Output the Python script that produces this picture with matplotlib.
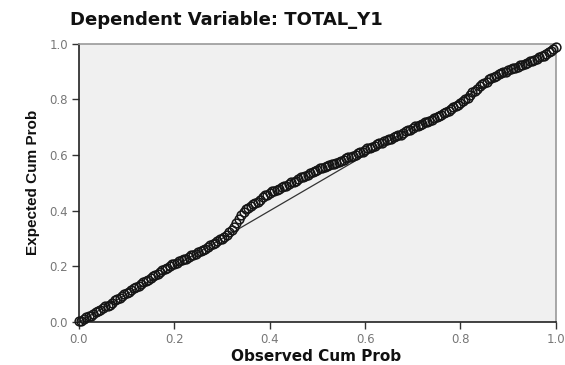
import matplotlib
matplotlib.use("Agg")
import matplotlib.pyplot as plt

# Observed / expected cumulative probabilities
observed = [0.00, 0.01, 0.02, 0.03, 0.04, 0.05, 0.06, 0.07, 0.08, 0.09,
            0.10, 0.11, 0.12, 0.13, 0.14, 0.15, 0.16, 0.17, 0.18, 0.19,
            0.20, 0.21, 0.22, 0.23, 0.24, 0.25, 0.26, 0.27, 0.28, 0.29,
            0.30, 0.31, 0.32, 0.33, 0.34, 0.35, 0.36, 0.37, 0.38, 0.39,
            0.40, 0.41, 0.42, 0.43, 0.44, 0.45, 0.46, 0.47, 0.48, 0.49,
            0.50, 0.51, 0.52, 0.53, 0.54, 0.55, 0.56, 0.57, 0.58, 0.59,
            0.60, 0.61, 0.62, 0.63, 0.64, 0.65, 0.66, 0.67, 0.68, 0.69,
            0.70, 0.71, 0.72, 0.73, 0.74, 0.75, 0.76, 0.77, 0.78, 0.79,
            0.80, 0.81, 0.82, 0.83, 0.84, 0.85, 0.86, 0.87, 0.88, 0.89,
            0.90, 0.91, 0.92, 0.93, 0.94, 0.95, 0.96, 0.97, 0.98, 0.99, 1.00]
expected = [0.005, 0.012, 0.020, 0.028, 0.040, 0.050, 0.058, 0.070, 0.082, 0.092,
            0.103, 0.115, 0.125, 0.135, 0.148, 0.158, 0.168, 0.178, 0.190, 0.200,
            0.210, 0.218, 0.226, 0.234, 0.242, 0.250, 0.258, 0.268, 0.282, 0.290,
            0.300, 0.312, 0.330, 0.355, 0.385, 0.405, 0.418, 0.428, 0.440, 0.455,
            0.465, 0.472, 0.480, 0.488, 0.495, 0.505, 0.515, 0.522, 0.530, 0.540,
            0.548, 0.555, 0.562, 0.567, 0.572, 0.580, 0.588, 0.595, 0.602, 0.610,
            0.618, 0.626, 0.634, 0.642, 0.650, 0.657, 0.665, 0.672, 0.680, 0.690,
            0.698, 0.705, 0.712, 0.720, 0.728, 0.736, 0.745, 0.755, 0.766, 0.776,
            0.788, 0.800, 0.815, 0.832, 0.848, 0.860, 0.872, 0.882, 0.890, 0.898,
            0.905, 0.912, 0.918, 0.925, 0.932, 0.940, 0.947, 0.955, 0.965, 0.975, 0.990]
observed_b = [0.005, 0.015, 0.025, 0.035, 0.045, 0.055, 0.065, 0.075, 0.085, 0.095,
              0.105, 0.115, 0.125, 0.135, 0.145, 0.155, 0.165, 0.175, 0.185, 0.195,
              0.205, 0.215, 0.225, 0.235, 0.245, 0.255, 0.265, 0.275, 0.285, 0.295,
              0.305, 0.315, 0.325, 0.335, 0.345, 0.355, 0.365, 0.375, 0.385, 0.395,
              0.405, 0.415, 0.425, 0.435, 0.445, 0.455, 0.465, 0.475, 0.485, 0.495,
              0.505, 0.515, 0.525, 0.535, 0.545, 0.555, 0.565, 0.575, 0.585, 0.595,
              0.605, 0.615, 0.625, 0.635, 0.645, 0.655, 0.665, 0.675, 0.685, 0.695,
              0.705, 0.715, 0.725, 0.735, 0.745, 0.755, 0.765, 0.775, 0.785, 0.795,
              0.805, 0.815, 0.825, 0.835, 0.845, 0.855, 0.865, 0.875, 0.885, 0.895,
              0.905, 0.915, 0.925, 0.935, 0.945, 0.955, 0.965, 0.975, 0.985, 0.995]
expected_b = [0.004, 0.018, 0.022, 0.036, 0.043, 0.056, 0.062, 0.078, 0.085, 0.099,
              0.107, 0.121, 0.128, 0.143, 0.151, 0.165, 0.171, 0.186, 0.193, 0.207,
              0.212, 0.224, 0.228, 0.240, 0.244, 0.256, 0.261, 0.277, 0.284, 0.297,
              0.304, 0.322, 0.340, 0.372, 0.396, 0.410, 0.425, 0.432, 0.450, 0.458,
              0.470, 0.474, 0.486, 0.490, 0.502, 0.508, 0.520, 0.524, 0.537, 0.542,
              0.553, 0.557, 0.566, 0.568, 0.577, 0.583, 0.593, 0.597, 0.608, 0.612,
              0.624, 0.628, 0.640, 0.644, 0.655, 0.659, 0.670, 0.674, 0.687, 0.692,
              0.703, 0.707, 0.718, 0.722, 0.734, 0.739, 0.752, 0.758, 0.773, 0.780,
              0.796, 0.805, 0.826, 0.838, 0.856, 0.864, 0.879, 0.884, 0.896, 0.900,
              0.910, 0.913, 0.923, 0.927, 0.938, 0.942, 0.953, 0.958, 0.972, 0.980]
ref_line = [0.0, 1.0]
ticks = [0.0, 0.2, 0.4, 0.6, 0.8, 1.0]
tick_labels = ["0.0", "0.2", "0.4", "0.6", "0.8", "1.0"]

title = "Dependent Variable: TOTAL_Y1"
xlabel = "Observed Cum Prob"
ylabel = "Expected Cum Prob"

fig = plt.figure(figsize=(5.65, 3.65), dpi=100)
ax = fig.add_axes([0.1398, 0.1178, 0.844, 0.762])
ax.set_facecolor("#f0f0f0")

ax.plot(ref_line, ref_line, color="#333333", linewidth=0.9, zorder=2)
for xs, ys in [(observed, expected), (observed_b, expected_b)]:
    ax.plot(xs, ys, linestyle="none", marker="o", markersize=6.3,
            markerfacecolor="none", markeredgecolor="#151515", markeredgewidth=1.1,
            zorder=3, clip_on=False)

ax.set_xlim(0, 1)
ax.set_ylim(0, 1)
ax.set_xticks(ticks)
ax.set_yticks(ticks)
ax.set_xticklabels(tick_labels)
ax.set_yticklabels(tick_labels)
ax.tick_params(direction="out", length=5, width=1, colors="#333333",
               labelsize=8.5, labelcolor="#777777", pad=3)

for side in ["left", "bottom"]:
    ax.spines[side].set_color("#222222")
    ax.spines[side].set_linewidth(1.2)
for side in ["top", "right"]:
    ax.spines[side].set_color("#999999")
    ax.spines[side].set_linewidth(1.2)

fig.text(0.124, 0.945, title, fontsize=13, fontweight="bold",
         family="DejaVu Sans", ha="left", va="center", color="#111111")
fig.text(0.56, 0.004, xlabel, fontsize=11, fontweight="bold",
         family="DejaVu Sans", ha="center", va="bottom", color="#111111")
fig.text(0.058, 0.50, ylabel, fontsize=11, fontweight="bold",
         family="Liberation Sans", rotation=90,
         ha="center", va="center", color="#111111")

fig.savefig("out.png", dpi=100)
